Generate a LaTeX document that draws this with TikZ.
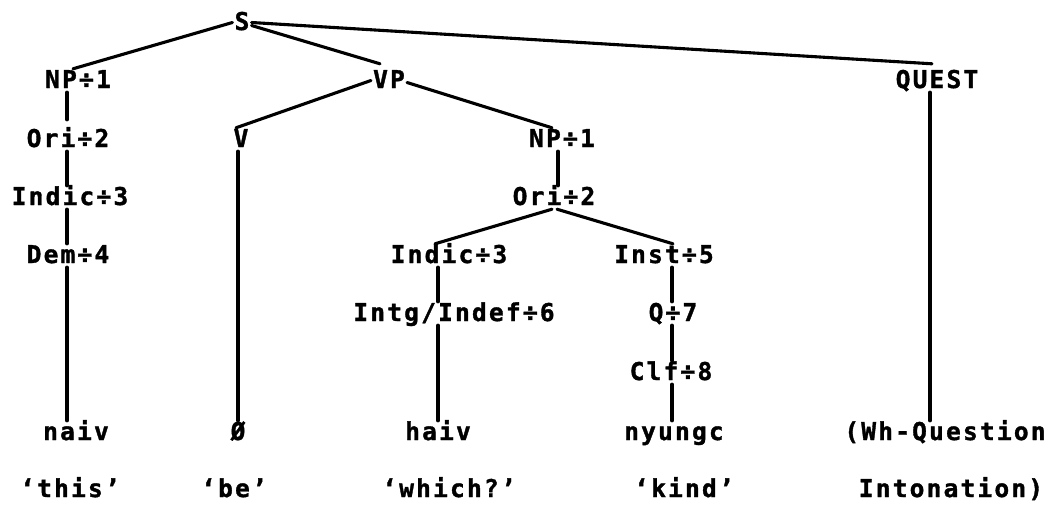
\documentclass[tikz,border=0pt]{standalone}
\usepackage{fontspec}
\newfontfamily\treefont[LetterSpace=9,BoldFeatures={FakeBold=1.4}]{DejaVu Sans Mono}
\begin{document}
\begin{tikzpicture}[x=1pt,y=-1pt,
  lab/.style={font=\treefont\bfseries\fontsize{24.5}{24.5}\selectfont, anchor=base,
              inner sep=2pt, text height=17pt, text depth=2pt},
  branch/.style={line width=3.1pt, line cap=round}]
\useasboundingbox (0,0) rectangle (1053,504);

% column positions of the vertical branches
\coordinate (colA) at (67,0);
\coordinate (colV) at (238,0);
\coordinate (colR) at (558,0);
\coordinate (colM) at (438,0);
\coordinate (colK) at (672,0);
\coordinate (colQ) at (930,0);

% categories
\node[lab] (s)      at (242,30)  {S};
\node[lab] (np1)    at (78,88)   {NP÷1};
\node[lab] (vp)     at (389,88)  {VP};
\node[lab] (quest)  at (937,88)  {QUEST};
\node[lab] (ori)    at (68,147)  {Ori÷2};
\node[lab] (v)      at (241,147) {V};
\node[lab] (np2)    at (562,147) {NP÷1};
\node[lab] (indicL) at (70,205)  {Indic÷3};
\node[lab] (uri)    at (554,205) {Ori÷2};
\node[lab] (dem)    at (68,263)  {Dem÷4};
\node[lab] (indicM) at (449,263) {Indic÷3};
\node[lab] (inst)   at (664,263) {Inst÷5};
\node[lab] (intg)   at (454,321) {Intg/Indef÷6};
\node[lab] (q)      at (673,321) {Q÷7};
\node[lab] (clf)    at (671,380) {Clf÷8};

% words
\node[lab] (naiv)   at (76,440)  {naiv};
\node[lab] (zero)   at (238,440) {Ø};
\node[lab] (haiv)   at (438,440) {haiv};
\node[lab] (nyungc) at (674,440) {nyungc};
\node[lab] (wh)     at (945,440) {(Wh-Question};

% glosses
\node[lab] (gthis)  at (70,497)  {‘this’};
\node[lab] (gbe)    at (234,497) {‘be’};
\node[lab] (gwhich) at (449,497) {‘which?’};
\node[lab] (gkind)  at (684,497) {‘kind’};
\node[lab] (ginton) at (951,497) {Intonation)};

% sloped branches
\draw[branch] (s.west) -- ([xshift=-5pt]np1.north);
\draw[branch] (s.east) -- ([xshift=-5pt,yshift=5pt]quest.north);
\draw[branch] ([yshift=-3pt]s.east) -- ([xshift=-9pt,yshift=5pt]vp.north);
\draw[branch] (vp.west) -- ([xshift=-5pt]v.north);
\draw[branch] ([yshift=-2pt]vp.east) -- ([xshift=-10pt]np2.north);
\draw[branch] ([xshift=-2pt]uri.south) -- ([xshift=-14pt]indicM.north);
\draw[branch] ([xshift=3pt]uri.south) -- ([xshift=9pt]inst.north);

% vertical branches
\draw[branch] (np1.south -| colA) -- ([yshift=8pt]ori.north -| colA);
\draw[branch] (ori.south -| colA) -- (indicL.north -| colA);
\draw[branch] (indicL.south -| colA) -- (dem.north -| colA);
\draw[branch] (dem.south -| colA) -- (naiv.north -| colA);
\draw[branch] (v.south -| colV) -- (zero.north -| colV);
\draw[branch] (np2.south -| colR) -- (uri.north -| colR);
\draw[branch] (indicM.south -| colM) -- (intg.north -| colM);
\draw[branch] (intg.south -| colM) -- (haiv.north -| colM);
\draw[branch] (inst.south -| colK) -- (q.north -| colK);
\draw[branch] (q.south -| colK) -- (clf.north -| colK);
\draw[branch] (clf.south -| colK) -- (nyungc.north -| colK);
\draw[branch] (quest.south -| colQ) -- (wh.north -| colQ);
\end{tikzpicture}
\end{document}
